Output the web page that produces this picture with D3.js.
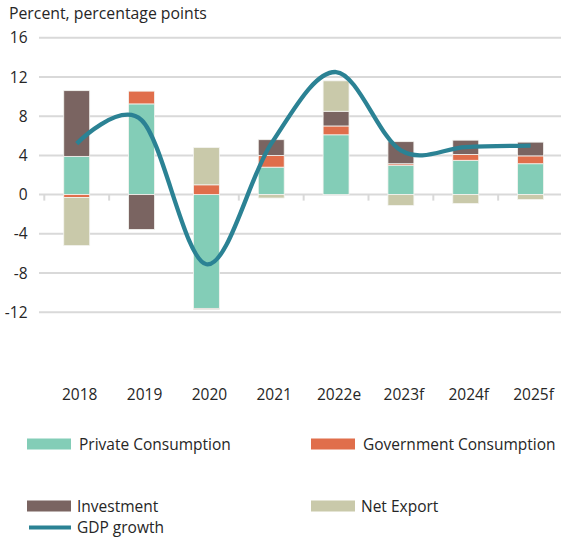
<!DOCTYPE html>
<html>
<head>
<meta charset="utf-8">
<script src="https://cdn.jsdelivr.net/npm/d3@7"></script>
<style>
  body { margin: 0; background: #fff; }
  text { font-family: "Open Sans", sans-serif; fill: #262626; }
</style>
</head>
<body>
<script>
const years = ["2018", "2019", "2020", "2021", "2022e", "2023f", "2024f", "2025f"]
const privateCons = [3.9, 9.25, -11.6, 2.8, 6.1, 3.0, 3.5, 3.15]
const govCons = [-0.3, 1.3, 1.0, 1.2, 0.9, 0.15, 0.6, 0.8]
const investment = [6.7, -3.55, -0.1, 1.6, 1.5, 2.25, 1.45, 1.4]
const netExport = [-4.9, 0, 3.8, -0.35, 3.1, -1.1, -0.9, -0.5]
const gdpGrowth = [5.2, 7.6, -7.1, 5.2, 12.5, 4.5, 4.85, 5.0]
const yTicks = [-12, -8, -4, 0, 4, 8, 12, 16]

const seriesNames = ["Private Consumption", "Government Consumption", "Investment", "Net Export"]
const colors = ["#83cdb7", "#e06e4b", "#7a6461", "#c9c9aa"]
const lineColor = "#2b8294"

const width = 561, height = 539

const table = years.map((y, i) => ({
  year: y, s0: privateCons[i], s1: govCons[i], s2: investment[i], s3: netExport[i], gdp: gdpGrowth[i]
}))

const svg = d3.select("body").append("svg")
    .attr("width", width)
    .attr("height", height)

const x = d3.scaleBand()
    .domain(years)
    .range([44.3, 563])
    .padding(0)

const y = d3.scaleLinear()
    .domain([-12, 16])
    .range([312.3, 37.7])

// title
svg.append("text")
    .attr("x", 9)
    .attr("y", 18.5)
    .style("font-size", "15.8px")
    .text("Percent, percentage points")

// gridlines
svg.append("g").selectAll("line")
    .data(yTicks)
  .enter().append("line")
    .attr("x1", 39)
    .attr("x2", width)
    .attr("y1", d => y(d))
    .attr("y2", d => y(d))
    .attr("stroke", "#d9d9d9")
    .attr("stroke-width", 2)

// y tick labels
svg.append("g").selectAll("text")
    .data(yTicks)
  .enter().append("text")
    .attr("x", 27.5)
    .attr("y", d => y(d))
    .attr("dy", "0.36em")
    .attr("text-anchor", "end")
    .style("font-size", "15.5px")
    .text(d => d)

// category tick marks on the zero line
svg.append("g").selectAll("line")
    .data(years.concat(["end"]))
  .enter().append("line")
    .attr("x1", (d, i) => x.range()[0] + i * x.step())
    .attr("x2", (d, i) => x.range()[0] + i * x.step())
    .attr("y1", y(0))
    .attr("y2", y(0) + 6)
    .attr("stroke", "#d9d9d9")
    .attr("stroke-width", 2)

// stacked bars
const stack = d3.stack()
    .keys(["s0", "s1", "s2", "s3"])
    .offset(d3.stackOffsetDiverging)
const stacked = stack(table)
const barW = x.bandwidth() * 0.4

svg.append("g").selectAll("g")
    .data(stacked)
  .enter().append("g")
    .attr("fill", (d, i) => colors[i])
  .selectAll("rect")
    .data(d => d)
  .enter().append("rect")
    .attr("x", d => x(d.data.year) + (x.bandwidth() - barW) / 2)
    .attr("width", barW)
    .attr("y", d => y(Math.max(d[0], d[1])))
    .attr("height", d => Math.abs(y(d[0]) - y(d[1])))
    .attr("stroke", "#f4f4f0")
    .attr("stroke-width", 0.8)

// GDP line
const line = d3.line()
    .x(d => x(d.year) + x.bandwidth() / 2)
    .y(d => y(d.gdp))
    .curve(d3.curveCardinal.tension(0))

svg.append("path")
    .datum(table)
    .attr("fill", "none")
    .attr("stroke", lineColor)
    .attr("stroke-width", 4.3)
    .attr("stroke-linejoin", "round")
    .attr("d", line)

// x labels
svg.append("g").selectAll("text")
    .data(years)
  .enter().append("text")
    .attr("x", d => x(d) + x.bandwidth() / 2 + 3)
    .attr("y", 399.5)
    .attr("text-anchor", "middle")
    .style("font-size", "15.5px")
    .text(d => d)

// legend
const legendPos = [
  {sx: 27, tx: 79, cy: 444},
  {sx: 311, tx: 363, cy: 444},
  {sx: 27, tx: 77, cy: 506},
  {sx: 311, tx: 361, cy: 506}
]
const legend = svg.append("g").selectAll("g")
    .data(seriesNames)
  .enter().append("g")

legend.append("rect")
    .attr("x", (d, i) => legendPos[i].sx)
    .attr("y", (d, i) => legendPos[i].cy - 5.5)
    .attr("width", 44)
    .attr("height", 11)
    .attr("fill", (d, i) => colors[i])

legend.append("text")
    .attr("x", (d, i) => legendPos[i].tx)
    .attr("y", (d, i) => legendPos[i].cy)
    .attr("dy", "0.36em")
    .style("font-size", "15.5px")
    .text(d => d)

svg.append("line")
    .attr("x1", 29)
    .attr("x2", 71)
    .attr("y1", 527.5)
    .attr("y2", 527.5)
    .attr("stroke", lineColor)
    .attr("stroke-width", 4)

svg.append("text")
    .attr("x", 77)
    .attr("y", 527.5)
    .attr("dy", "0.36em")
    .style("font-size", "15.5px")
    .text("GDP growth")
</script>
</body>
</html>
